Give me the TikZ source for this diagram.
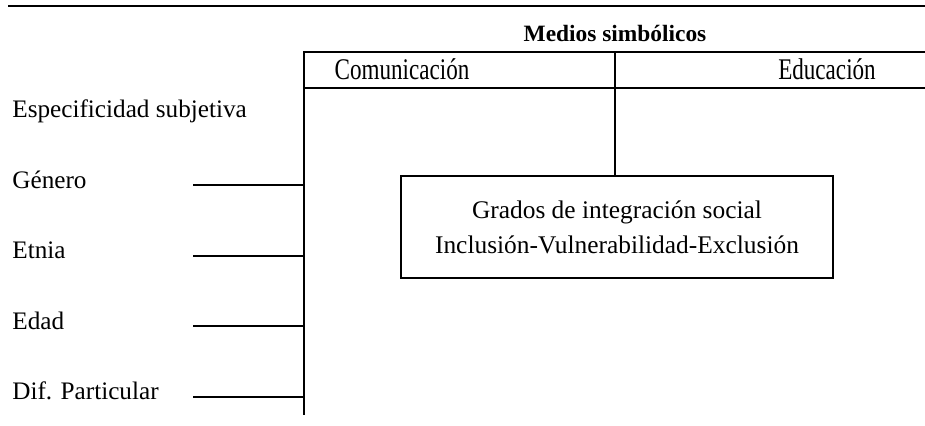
\documentclass[tikz,border=0pt]{standalone}
\usepackage{fontspec}
\setmainfont{Liberation Serif}
\newfontfamily\condfont[FakeStretch=0.77]{Liberation Serif}
\usetikzlibrary{positioning}
\tikzstyle{sujeto} = [inner sep=0pt, anchor=base west, font=\fontsize{12.6}{15}\selectfont]
\tikzstyle{medio} = [inner sep=0pt, anchor=base, font=\condfont\fontsize{15}{18}\selectfont]
\tikzstyle{titulo} = [inner sep=0pt, anchor=base, font=\bfseries\fontsize{11.7}{14}\selectfont]
\tikzstyle{grado} = [rectangle, minimum width=216pt, minimum height=51pt, text centered, align=center, draw=black, line width=0.7pt, font=\fontsize{12.7}{17.5}\selectfont]
\tikzstyle{rule} = [line width=1pt]

\begin{document}
\begin{tikzpicture}[x=0.5pt, y=-0.5pt, node distance=35.25pt]
\useasboundingbox (0,0) rectangle (925,426);

% frame of the table
\coordinate (spinetop) at (304,52);
\coordinate (spinebot) at (304,415);
\coordinate (midtop) at (615,52);
\coordinate (stub) at (193,0);
\coordinate (rightend) at (925,88);

\draw [rule] (8,6) -- (925,6);
\draw [rule] (spinebot) -- (spinetop) -- (925,52);
\draw [rule] (spinetop |- rightend) -- (rightend);

\node (medios) [titulo] at (615,42) {Medios simbólicos};
\node (comunic) [medio] at (402,80) {Comunicación};
\node (educ) [medio] at (827,80) {Educación};

\node (grados) [grado] at (617,227) {Grados de integración social\\Inclusión-Vulnerabilidad-Exclusión};
\draw [rule] (midtop) -- (grados.north -| midtop);

% left column
\node (espec) [sujeto] at (12,118) {Especificidad subjetiva};
\node (genero) [sujeto, below=of espec.base west, anchor=base west] {Género};
\node (etnia) [sujeto, below=of genero.base west, anchor=base west] {Etnia};
\node (edad) [sujeto, below=of etnia.base west, anchor=base west] {Edad};
\node (difpart) [sujeto, below=of edad.base west, anchor=base west] {Dif. Particular};

\draw [rule] ([yshift=1.5pt]genero.base -| stub) -- ([yshift=1.5pt]genero.base -| spinetop);
\draw [rule] ([yshift=1.5pt]etnia.base -| stub) -- ([yshift=1.5pt]etnia.base -| spinetop);
\draw [rule] ([yshift=1.5pt]edad.base -| stub) -- ([yshift=1.5pt]edad.base -| spinetop);
\draw [rule] ([yshift=1.5pt]difpart.base -| stub) -- ([yshift=1.5pt]difpart.base -| spinetop);

\end{tikzpicture}
\end{document}
